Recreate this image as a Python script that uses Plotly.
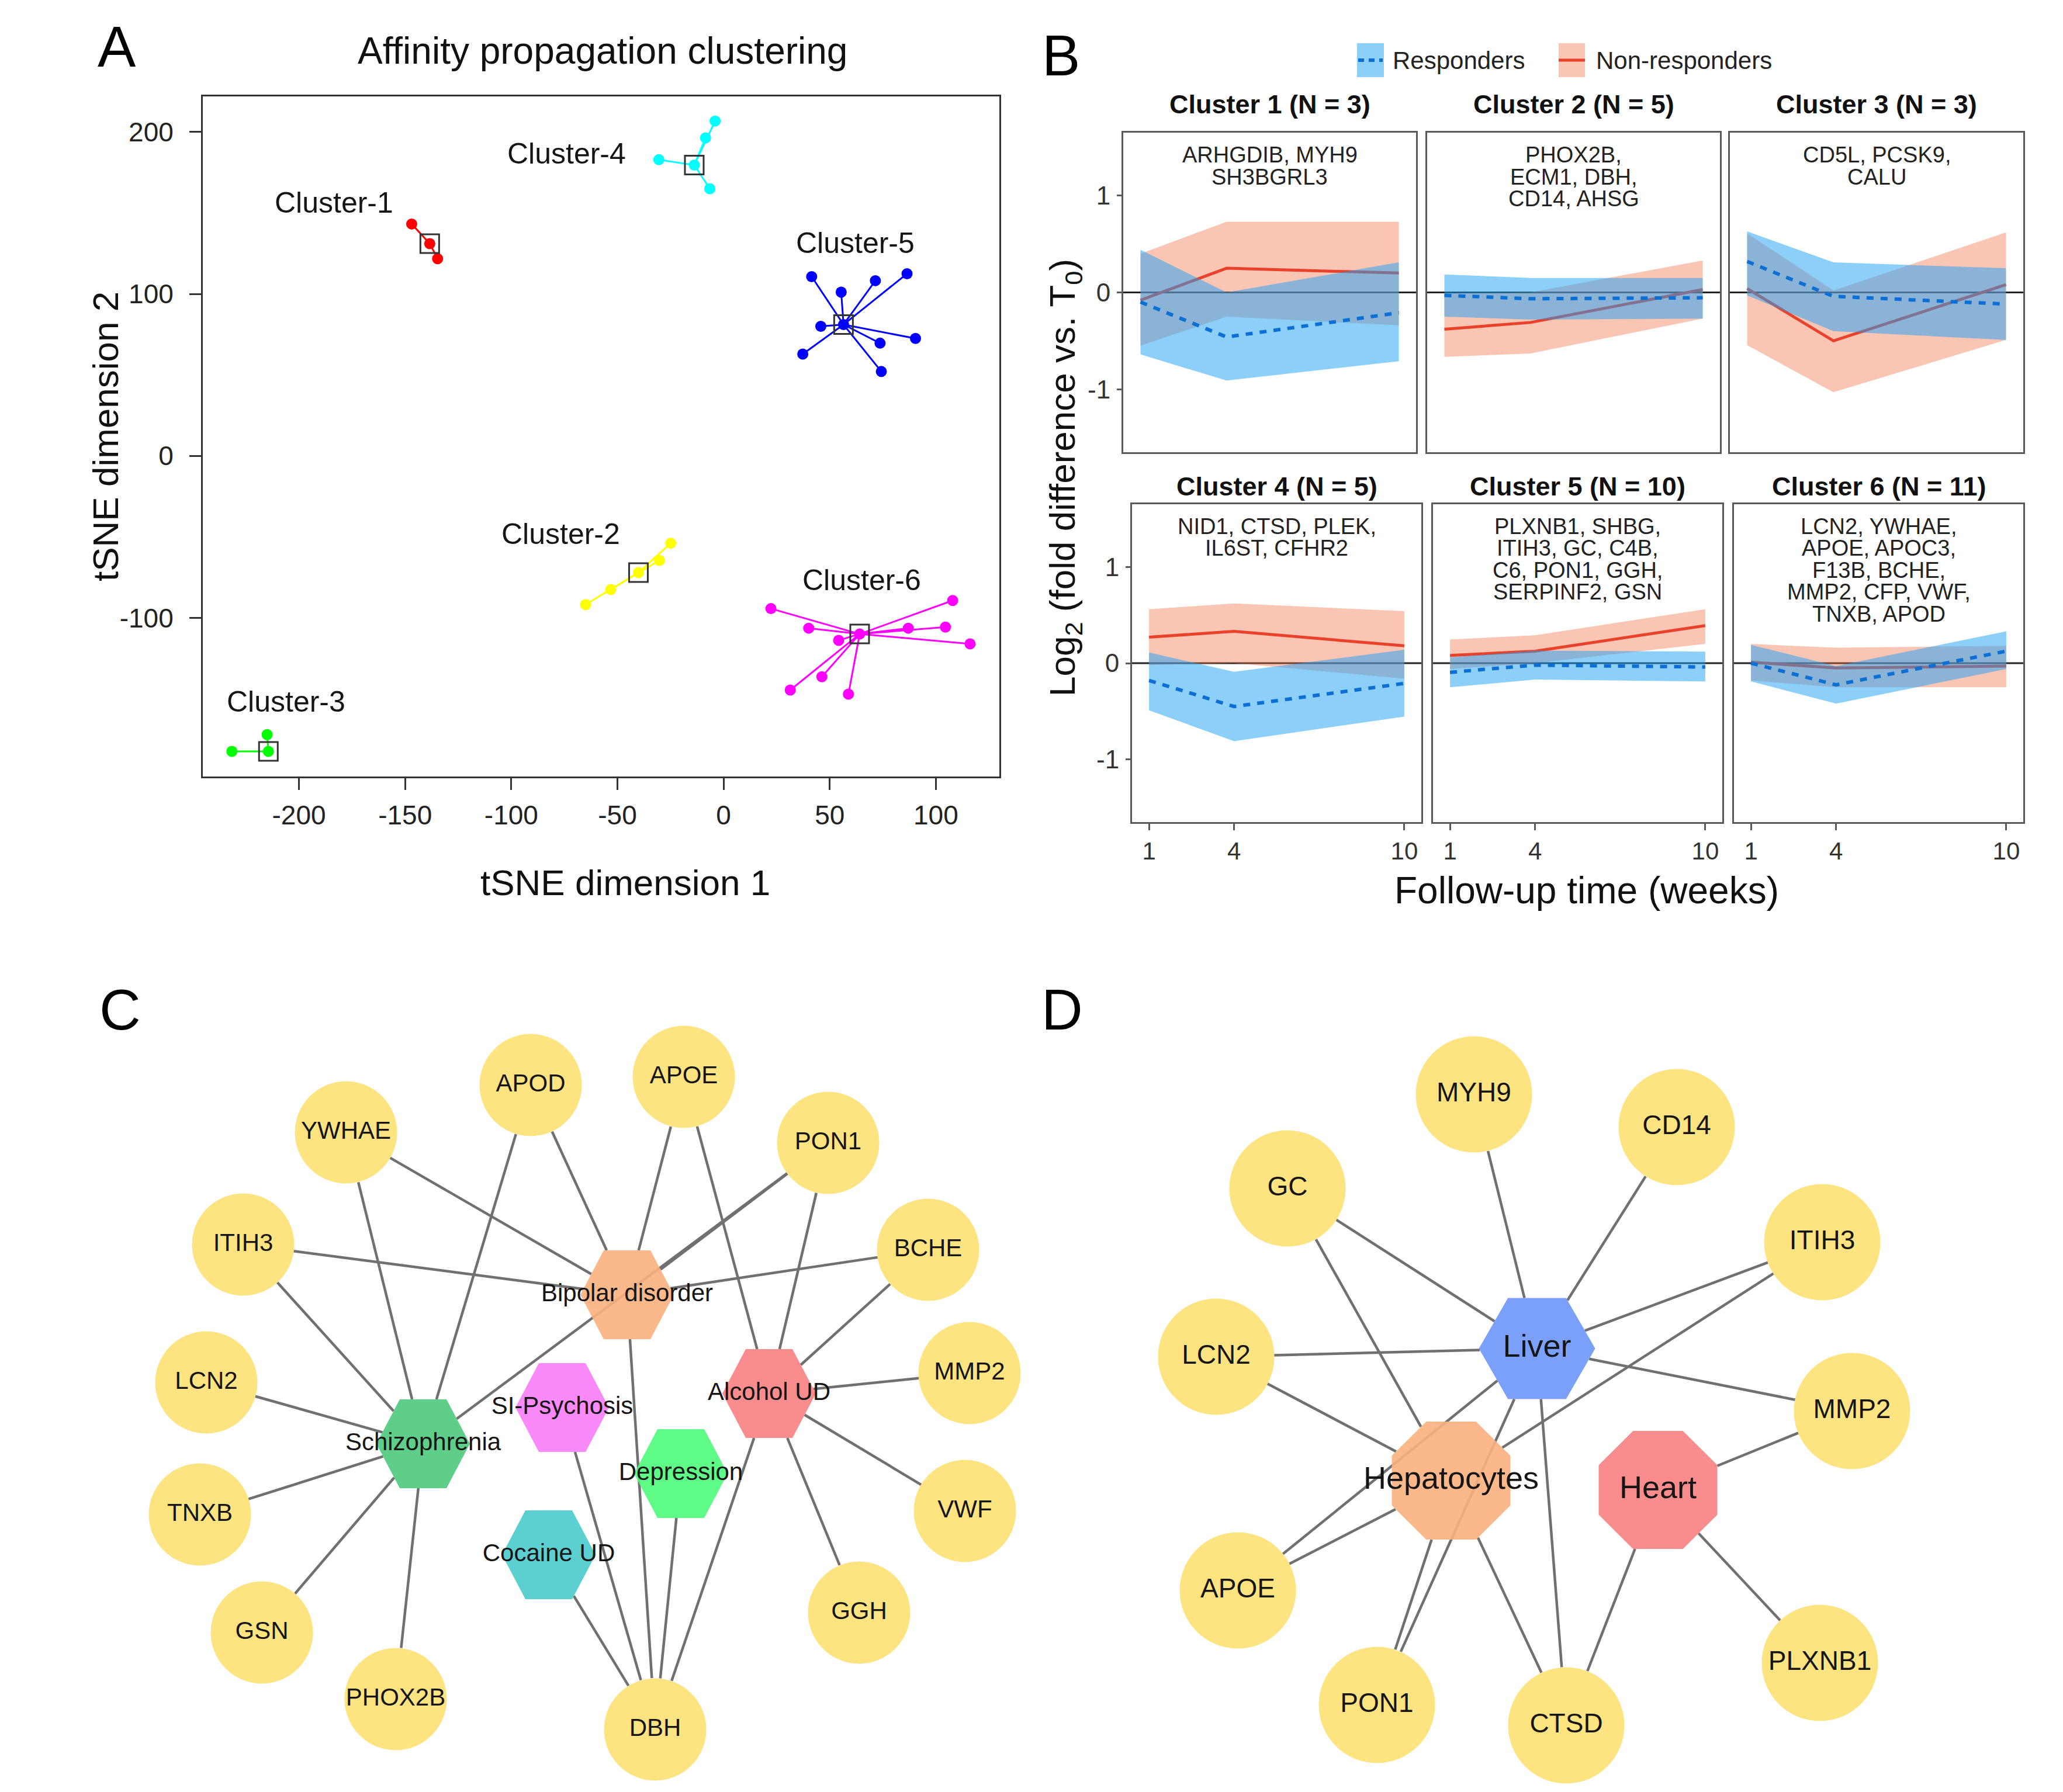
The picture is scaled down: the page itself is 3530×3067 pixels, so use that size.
import math
import plotly.graph_objects as go

W, H = 3530, 3067
FONT = "Liberation Sans, Arial, sans-serif"

# ======================= DATA =======================
# ---- Panel A: tSNE coordinates of cluster members (exemplar included) ----
CLUSTER_NAMES = ["Cluster-1", "Cluster-2", "Cluster-3", "Cluster-4", "Cluster-5", "Cluster-6"]
c1_x = [-146.9, -138.4, -134.7]
c1_y = [143.2, 131.1, 121.8]
c2_x = [-65.0, -53.1, -40.1, -30.2, -24.9]
c2_y = [-91.8, -82.5, -72.1, -64.6, -53.9]
c3_x = [-231.6, -215.0, -214.4]
c3_y = [-182.5, -172.1, -182.5]
c4_x = [-30.5, -13.8, -8.5, -4.0, -6.5]
c4_y = [182.9, 179.6, 196.4, 206.8, 165.0]
c5_x = [41.5, 55.4, 71.5, 86.4, 45.8, 56.5, 90.4, 73.7, 74.3, 37.3]
c5_y = [110.7, 101.1, 108.2, 112.5, 80.0, 81.1, 72.5, 69.6, 52.1, 62.9]
c6_x = [22.3, 40.1, 54.2, 64.1, 87.0, 104.5, 107.9, 116.1, 46.3, 31.4, 58.8]
c6_y = [-94.3, -106.4, -113.9, -110.0, -106.4, -105.7, -89.3, -116.1, -136.4, -144.6, -147.1]
EXEMPLAR_INDEX = [1, 2, 2, 1, 5, 3]
A_XTICKS = [-200, -150, -100, -50, 0, 50, 100]
A_XTICKTEXT = ["-200", "-150", "-100", "-50", "0", "50", "100"]
A_YTICKS = [-100, 0, 100, 200]
A_YTICKTEXT = ["-100", "0", "100", "200"]

# ---- Panel B: log2 fold difference vs T0 ----
WEEKS = [1, 4, 10]
B_TITLES = ["Cluster 1 (N = 3)", "Cluster 2 (N = 5)", "Cluster 3 (N = 3)",
            "Cluster 4 (N = 5)", "Cluster 5 (N = 10)", "Cluster 6 (N = 11)"]
B_GENES = [["ARHGDIB, MYH9", "SH3BGRL3"],
           ["PHOX2B,", "ECM1, DBH,", "CD14, AHSG"],
           ["CD5L, PCSK9,", "CALU"],
           ["NID1, CTSD, PLEK,", "IL6ST, CFHR2"],
           ["PLXNB1, SHBG,", "ITIH3, GC, C4B,", "C6, PON1, GGH,", "SERPINF2, GSN"],
           ["LCN2, YWHAE,", "APOE, APOC3,", "F13B, BCHE,", "MMP2, CFP, VWF,", "TNXB, APOD"]]
RESP_MEAN = [[-0.10, -0.46, -0.21], [-0.03, -0.065, -0.055], [0.32, -0.04, -0.12],
             [-0.18, -0.45, -0.21], [-0.095, -0.02, -0.04], [0.0, -0.225, 0.125]]
RESP_LO = [[-0.64, -0.91, -0.71], [-0.25, -0.28, -0.27], [-0.03, -0.40, -0.49],
           [-0.49, -0.81, -0.555], [-0.25, -0.17, -0.19], [-0.19, -0.42, -0.06]]
RESP_HI = [[0.44, 0.00, 0.31], [0.185, 0.15, 0.15], [0.63, 0.31, 0.25],
           [0.11, -0.09, 0.14], [0.06, 0.13, 0.12], [0.19, -0.03, 0.33]]
NONR_MEAN = [[-0.08, 0.25, 0.20], [-0.38, -0.31, 0.03], [0.04, -0.50, 0.08],
             [0.27, 0.33, 0.18], [0.08, 0.125, 0.39], [0.01, -0.05, -0.03]]
NONR_LO = [[-0.55, -0.25, -0.34], [-0.665, -0.63, -0.27], [-0.545, -1.03, -0.49],
           [-0.02, 0.0, -0.16], [-0.06, 0.0, 0.20], [-0.18, -0.25, -0.25]]
NONR_HI = [[0.40, 0.73, 0.73], [-0.01, 0.0, 0.33], [0.61, 0.02, 0.62],
           [0.56, 0.62, 0.54], [0.245, 0.29, 0.56], [0.20, 0.16, 0.18]]
B_XTICKTEXT = ["1", "4", "10"]
B_YTICKS = [-1, 0, 1]
B_YTICKTEXT = ["-1", "0", "1"]

# ---- Panel C: gene - disease network ----
C_GENES = ["APOD", "APOE", "YWHAE", "PON1", "ITIH3", "BCHE", "LCN2", "MMP2",
           "TNXB", "VWF", "GSN", "GGH", "PHOX2B", "DBH"]
C_DISEASES = ["Bipolar disorder", "Schizophrenia", "SI-Psychosis", "Alcohol UD",
              "Depression", "Cocaine UD"]
C_EDGES = [("YWHAE", "Bipolar disorder"), ("YWHAE", "Schizophrenia"),
           ("APOD", "Schizophrenia"), ("APOD", "Bipolar disorder"),
           ("APOE", "Bipolar disorder"), ("APOE", "Alcohol UD"),
           ("PON1", "Bipolar disorder"), ("PON1", "Schizophrenia"), ("PON1", "Alcohol UD"),
           ("ITIH3", "Bipolar disorder"), ("ITIH3", "Schizophrenia"),
           ("BCHE", "Bipolar disorder"), ("BCHE", "Alcohol UD"),
           ("LCN2", "Schizophrenia"), ("MMP2", "Alcohol UD"), ("TNXB", "Schizophrenia"),
           ("VWF", "Alcohol UD"), ("GSN", "Schizophrenia"), ("PHOX2B", "Schizophrenia"),
           ("GGH", "Alcohol UD"),
           ("DBH", "Cocaine UD"), ("DBH", "SI-Psychosis"), ("DBH", "Bipolar disorder"),
           ("DBH", "Depression"), ("DBH", "Alcohol UD")]

# ---- Panel D: gene - tissue network ----
D_GENES = ["MYH9", "CD14", "GC", "ITIH3", "LCN2", "MMP2", "APOE", "PLXNB1", "PON1", "CTSD"]
D_TISSUES = ["Liver", "Hepatocytes", "Heart"]
D_EDGES = [("MYH9", "Liver"), ("CD14", "Liver"), ("GC", "Liver"), ("GC", "Hepatocytes"),
           ("ITIH3", "Liver"), ("ITIH3", "Hepatocytes"), ("LCN2", "Liver"),
           ("LCN2", "Hepatocytes"), ("MMP2", "Liver"), ("MMP2", "Heart"),
           ("APOE", "Liver"), ("APOE", "Hepatocytes"), ("PON1", "Liver"),
           ("PON1", "Hepatocytes"), ("CTSD", "Liver"), ("CTSD", "Hepatocytes"),
           ("CTSD", "Heart"), ("PLXNB1", "Heart")]

# ======================= LAYOUT / STYLE =======================
CLUSTER_COLORS = ["#FF0000", "#FFFF00", "#00FF00", "#00FFFF", "#0000FF", "#FF00FF"]
A_LABEL_X = [-183.6, -76.8, -206.2, -74.0, 62.1, 65.0]
A_LABEL_Y = [156.4, -48.2, -151.8, 186.8, 131.4, -76.8]

# network node layout (page pixels)
C_GENE_X = [908, 1170, 592, 1417, 416, 1588, 353, 1659, 342, 1651, 448, 1470, 677, 1121]
C_GENE_Y = [1857, 1843, 1938, 1956, 2130, 2139, 2366, 2350, 2592, 2586, 2794, 2760, 2908, 2960]
C_DIS_X = [1073, 724, 962, 1316, 1165, 939]
C_DIS_Y = [2216, 2471, 2409, 2385, 2522, 2661]
C_DIS_COLORS = ["#FBB07E", "#4CC97B", "#FA7CFA", "#F88080", "#4EFB7A", "#4ACACC"]
D_GENE_X = [2522, 2869, 2203, 3118, 2081, 3169, 2118, 3114, 2356, 2680]
D_GENE_Y = [1873, 1929, 2034, 2126, 2322, 2415, 2722, 2846, 2918, 2953]
D_TIS_X = [2630, 2483, 2837]
D_TIS_Y = [2308, 2534, 2550]
D_TIS_SHAPES = ["hexagon", "octagon", "octagon"]
D_TIS_COLORS = ["#6C96F9", "#FBB07E", "#F88080"]
GENE_COLOR = "#FEE381"
EDGE_COLOR = "#707070"


def px(x):
    return x / W


def py(y):
    return 1 - y / H


def ann(x, y, text, size, color="#111111", xanchor="center", angle=0, ref="paper"):
    if ref == "paper":
        xx, yy, xr, yr = px(x), py(y), "paper", "paper"
    else:
        xx, yy, xr, yr = x, y, "x", "y"
    return dict(x=xx, y=yy, xref=xr, yref=yr, text=text, showarrow=False,
                xanchor=xanchor, yanchor="middle", textangle=angle,
                font=dict(size=size, color=color))


fig = go.Figure()

# ======================= PANEL A =======================
A_BOX = (347, 165, 1710, 1329)
clusters_x = [c1_x, c2_x, c3_x, c4_x, c5_x, c6_x]
clusters_y = [c1_y, c2_y, c3_y, c4_y, c5_y, c6_y]
for i in range(6):
    xs, ys, e, col = clusters_x[i], clusters_y[i], EXEMPLAR_INDEX[i], CLUSTER_COLORS[i]
    lx, ly = [], []
    for j in range(len(xs)):
        if j == e:
            continue
        lx += [xs[e], xs[j], None]
        ly += [ys[e], ys[j], None]
    fig.add_trace(go.Scatter(x=lx, y=ly, mode="lines", line=dict(color=col, width=3),
                             xaxis="x", yaxis="y", hoverinfo="skip", showlegend=False))
    fig.add_trace(go.Scatter(x=xs, y=ys, mode="markers",
                             marker=dict(color=col, size=19, line=dict(width=0)),
                             xaxis="x", yaxis="y", hoverinfo="skip", showlegend=False))
    fig.add_trace(go.Scatter(x=[xs[e]], y=[ys[e]], mode="markers",
                             marker=dict(symbol="square-open", size=32, color="#333333",
                                         line=dict(width=3, color="#333333")),
                             xaxis="x", yaxis="y", hoverinfo="skip", showlegend=False))

annotations = []
for i in range(6):
    annotations.append(ann(A_LABEL_X[i], A_LABEL_Y[i], CLUSTER_NAMES[i], 50,
                           color="#151515", ref="data"))

layout_axes = {}
layout_axes["xaxis"] = dict(domain=[px(A_BOX[0]), px(A_BOX[2])], range=[-245.3, 129.9],
                            anchor="y", showline=True, mirror=True, linecolor="#333333",
                            linewidth=3, showgrid=False, zeroline=False, ticks="outside",
                            ticklen=20, tickwidth=3, tickcolor="#333333",
                            tickvals=A_XTICKS, ticktext=A_XTICKTEXT,
                            tickfont=dict(size=46, color="#222222"), ticklabelstandoff=4)
layout_axes["yaxis"] = dict(domain=[py(A_BOX[3]), py(A_BOX[1])], range=[-198.0, 222.0],
                            anchor="x", showline=True, mirror=True, linecolor="#333333",
                            linewidth=3, showgrid=False, zeroline=False, ticks="outside",
                            ticklen=20, tickwidth=3, tickcolor="#333333",
                            tickvals=A_YTICKS, ticktext=A_YTICKTEXT,
                            tickfont=dict(size=46, color="#222222"), ticklabelstandoff=18)

annotations += [
    ann(200, 80, "A", 98, color="black"),
    ann(1031, 87, "Affinity propagation clustering", 64),
    ann(1070, 1510, "tSNE dimension 1", 62),
    ann(181, 747, "tSNE dimension 2", 62, angle=-90),
]

# ======================= PANEL B =======================
B_BOXES = [(1922, 227, 2423, 774), (2442, 227, 2943, 774), (2960, 227, 3462, 774),
           (1937, 863, 2432, 1407), (2452, 863, 2947, 1407), (2967, 863, 3462, 1407)]
RED_FILL = "rgba(244,109,67,0.4)"
BLUE_FILL = "rgba(25,161,245,0.5)"
RED_LINE = "#E8432A"
BLUE_LINE = "#0B6FD3"
shapes = []
for k in range(6):
    n = k + 2
    xa, ya = f"x{n}", f"y{n}"
    fig.add_trace(go.Scatter(x=WEEKS + WEEKS[::-1], y=NONR_HI[k] + NONR_LO[k][::-1],
                             mode="lines", fill="toself", fillcolor=RED_FILL,
                             line=dict(width=0, color=RED_FILL), xaxis=xa, yaxis=ya,
                             hoverinfo="skip", showlegend=False))
    fig.add_trace(go.Scatter(x=WEEKS, y=NONR_MEAN[k], mode="lines",
                             line=dict(color=RED_LINE, width=5), xaxis=xa, yaxis=ya,
                             hoverinfo="skip", showlegend=False))
    fig.add_trace(go.Scatter(x=WEEKS + WEEKS[::-1], y=RESP_HI[k] + RESP_LO[k][::-1],
                             mode="lines", fill="toself", fillcolor=BLUE_FILL,
                             line=dict(width=0, color=BLUE_FILL), xaxis=xa, yaxis=ya,
                             hoverinfo="skip", showlegend=False))
    fig.add_trace(go.Scatter(x=WEEKS, y=RESP_MEAN[k], mode="lines",
                             line=dict(color=BLUE_LINE, width=6, dash="12px,12px"),
                             xaxis=xa, yaxis=ya, hoverinfo="skip", showlegend=False))
    x0, y0, x1, y1 = B_BOXES[k]
    bottom = k >= 3
    left = k % 3 == 0
    layout_axes[f"xaxis{n}"] = dict(domain=[px(x0), px(x1)], range=[0.4, 10.6], anchor=ya,
                                    showline=True, mirror=True, linecolor="#5a5a5a",
                                    linewidth=3, showgrid=False, zeroline=False,
                                    ticks="outside" if bottom else "", ticklen=11,
                                    tickwidth=3, tickcolor="#5a5a5a",
                                    tickvals=WEEKS, ticktext=B_XTICKTEXT,
                                    showticklabels=bottom, ticklabelstandoff=0,
                                    tickfont=dict(size=42, color="#333333"))
    layout_axes[f"yaxis{n}"] = dict(domain=[py(y1), py(y0)], range=[-1.65, 1.65], anchor=xa,
                                    showline=True, mirror=True, linecolor="#5a5a5a",
                                    linewidth=3, showgrid=False, zeroline=False,
                                    ticks="outside" if left else "", ticklen=8,
                                    tickwidth=3, tickcolor="#5a5a5a",
                                    tickvals=B_YTICKS, ticktext=B_YTICKTEXT,
                                    showticklabels=left, ticklabelstandoff=2,
                                    tickfont=dict(size=44, color="#333333"))
    shapes.append(dict(type="line", xref=f"{xa} domain", yref=ya, x0=0, x1=1, y0=0, y1=0,
                       line=dict(color="#222222", width=3), layer="below"))
    cx = (x0 + x1) / 2
    title_y = 179 if k < 3 else 832
    annotations.append(ann(cx, title_y, f"<b>{B_TITLES[k]}</b>", 45))
    for li, line in enumerate(B_GENES[k]):
        annotations.append(ann(cx, y0 + 38 + 37.5 * li, line, 38, color="#222222"))

annotations += [
    ann(1816, 95, "B", 98, color="black"),
    ann(2715, 1524, "Follow-up time (weeks)", 64),
    ann(1822, 817, "Log<sub>2</sub> (fold difference vs. T<sub>0</sub>)", 62, angle=-90),
    ann(2381, 103, "Responders", 42, color="#222222", xanchor="left"),
    ann(2729, 103, "Non-responders", 42, color="#222222", xanchor="left"),
]
# legend keys
shapes += [
    dict(type="rect", xref="paper", yref="paper", x0=px(2322), x1=px(2368), y0=py(132),
         y1=py(74), fillcolor=BLUE_FILL, line=dict(width=0)),
    dict(type="line", xref="paper", yref="paper", x0=px(2324), x1=px(2366), y0=py(103),
         y1=py(103), line=dict(color=BLUE_LINE, width=6, dash="10px,8px")),
    dict(type="rect", xref="paper", yref="paper", x0=px(2667), x1=px(2712), y0=py(132),
         y1=py(74), fillcolor=RED_FILL, line=dict(width=0)),
    dict(type="line", xref="paper", yref="paper", x0=px(2667), x1=px(2712), y0=py(103),
         y1=py(103), line=dict(color=RED_LINE, width=5)),
]


# ======================= PANELS C & D (networks, page-pixel axes) =======================
def hexagon_pts(cx, cy, w, h):
    return [(cx - w / 2, cy), (cx - w / 4, cy - h / 2), (cx + w / 4, cy - h / 2),
            (cx + w / 2, cy), (cx + w / 4, cy + h / 2), (cx - w / 4, cy + h / 2)]


def octagon_pts(cx, cy, w, h, k=0.42):
    return [(cx - k * w / 2, cy - h / 2), (cx + k * w / 2, cy - h / 2),
            (cx + w / 2, cy - k * h / 2), (cx + w / 2, cy + k * h / 2),
            (cx + k * w / 2, cy + h / 2), (cx - k * w / 2, cy + h / 2),
            (cx - w / 2, cy + k * h / 2), (cx - w / 2, cy - k * h / 2)]


def node_pts(node):
    shape, cx, cy, w, h = node
    if shape == "hexagon":
        return hexagon_pts(cx, cy, w, h)
    return octagon_pts(cx, cy, w, h)


def boundary_t(node, ux, uy):
    shape, cx, cy, w, h = node
    if shape == "circle":
        return 1 / math.sqrt((ux / (w / 2)) ** 2 + (uy / (h / 2)) ** 2)
    pts = node_pts(node)
    best = float("inf")
    for i in range(len(pts)):
        ax_, ay_ = pts[i]
        bx, by = pts[(i + 1) % len(pts)]
        ex, ey = bx - ax_, by - ay_
        den = ux * ey - uy * ex
        if abs(den) < 1e-12:
            continue
        qx, qy = ax_ - cx, ay_ - cy
        t = (qx * ey - qy * ex) / den
        s = (qx * uy - qy * ux) / den
        if t > 0 and -1e-9 <= s <= 1 + 1e-9:
            best = min(best, t)
    return best


def draw_network(nodes, edges, hubs, hub_colors, genes, gene_size, gene_font, hub_font):
    ex_, ey_ = [], []
    for a, b in edges:
        na, nb = nodes[a], nodes[b]
        dx, dy = nb[1] - na[1], nb[2] - na[2]
        L = math.hypot(dx, dy)
        ux, uy = dx / L, dy / L
        ta = boundary_t(na, ux, uy)
        tb = boundary_t(nb, -ux, -uy)
        ex_ += [na[1] + ux * ta, nb[1] - ux * tb, None]
        ey_ += [na[2] + uy * ta, nb[2] - uy * tb, None]
    fig.add_trace(go.Scatter(x=ex_, y=ey_, mode="lines",
                             line=dict(color=EDGE_COLOR, width=4.5),
                             xaxis="x8", yaxis="y8", hoverinfo="skip", showlegend=False))
    for name, col in zip(hubs, hub_colors):
        pts = node_pts(nodes[name])
        fig.add_trace(go.Scatter(x=[p[0] for p in pts] + [pts[0][0]],
                                 y=[p[1] for p in pts] + [pts[0][1]],
                                 mode="lines", fill="toself", fillcolor=col,
                                 line=dict(width=0, color=col), opacity=0.9,
                                 xaxis="x8", yaxis="y8", hoverinfo="skip", showlegend=False))
    fig.add_trace(go.Scatter(x=[nodes[g][1] for g in genes], y=[nodes[g][2] for g in genes],
                             mode="markers+text", text=genes, textposition="middle center",
                             textfont=dict(size=gene_font, color="#151515"),
                             marker=dict(size=gene_size, color=GENE_COLOR, line=dict(width=0)),
                             xaxis="x8", yaxis="y8", hoverinfo="skip", showlegend=False))
    fig.add_trace(go.Scatter(x=[nodes[h][1] for h in hubs], y=[nodes[h][2] for h in hubs],
                             mode="text", text=hubs, textposition="middle center",
                             textfont=dict(size=hub_font, color="#151515"),
                             xaxis="x8", yaxis="y8", hoverinfo="skip", showlegend=False))


c_nodes = {}
for g, x, y in zip(C_GENES, C_GENE_X, C_GENE_Y):
    c_nodes[g] = ("circle", x, y, 174, 176)
for d, x, y in zip(C_DISEASES, C_DIS_X, C_DIS_Y):
    c_nodes[d] = ("hexagon", x, y, 160, 152)
draw_network(c_nodes, C_EDGES, C_DISEASES, C_DIS_COLORS, C_GENES, 175, 42, 42)

d_nodes = {}
for g, x, y in zip(D_GENES, D_GENE_X, D_GENE_Y):
    d_nodes[g] = ("circle", x, y, 198, 200)
for t, x, y, s in zip(D_TISSUES, D_TIS_X, D_TIS_Y, D_TIS_SHAPES):
    d_nodes[t] = (s, x, y, 199, 173) if s == "hexagon" else (s, x, y, 203, 202)
draw_network(d_nodes, D_EDGES, D_TISSUES, D_TIS_COLORS, D_GENES, 199, 46, 54)

layout_axes["xaxis8"] = dict(domain=[0, 1], range=[0, W], anchor="y8", visible=False)
layout_axes["yaxis8"] = dict(domain=[0, 1], range=[H, 0], anchor="x8", visible=False)

annotations += [
    ann(205, 1728, "C", 98, color="black"),
    ann(1817, 1728, "D", 98, color="black"),
]

fig.update_layout(
    width=W, height=H, autosize=False,
    margin=dict(l=0, r=0, t=0, b=0, pad=0),
    paper_bgcolor="white", plot_bgcolor="rgba(0,0,0,0)",
    font=dict(family=FONT, color="#111111"),
    showlegend=False, annotations=annotations, shapes=shapes,
    **layout_axes,
)

fig.write_html("out.html", include_plotlyjs=True, full_html=True,
               config={"displayModeBar": False},
               post_script="document.body.style.margin='0';document.body.style.overflow='hidden';")
